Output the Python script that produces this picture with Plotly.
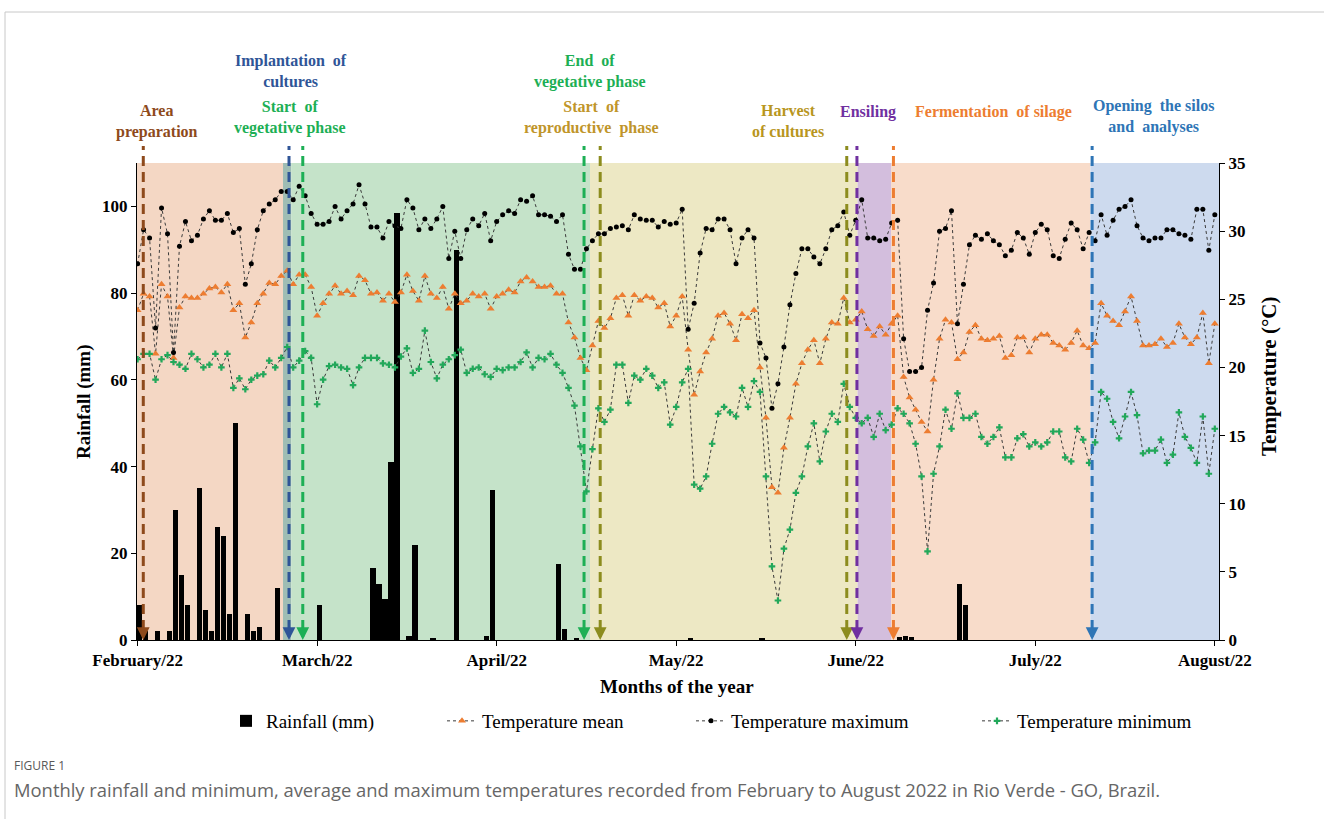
import plotly.graph_objects as go

# ---------------- data ----------------
month_labels = ["February/22", "March/22", "April/22", "May/22", "June/22", "July/22", "August/22"]
month_ticks = [0, 30, 60, 90, 120, 150, 180]

temp_max = [27.6, 30.1, 29.5, 22.9, 31.7, 29.8, 21.1, 28.9, 30.7, 29.3,
            29.7, 30.9, 31.5, 30.8, 30.8, 31.3, 29.9, 30.2, 26.1, 27.6,
            30.1, 31.5, 32.0, 32.3, 32.9, 32.9, 32.3, 33.3, 32.6, 31.3,
            30.5, 30.5, 30.7, 31.8, 30.9, 31.5, 32.0, 33.4, 32.0, 30.3,
            30.3, 29.5, 30.7, 30.4, 30.2, 32.3, 31.7, 30.1, 30.9, 30.2,
            30.9, 31.8, 28.0, 30.0, 28.0, 30.1, 30.9, 30.4, 31.3, 29.3,
            30.7, 31.2, 31.5, 31.3, 32.3, 32.2, 32.6, 31.2, 31.2, 31.1,
            30.7, 31.2, 28.3, 27.2, 27.2, 28.7, 29.3, 29.8, 29.8, 30.2,
            30.3, 30.4, 30.1, 31.2, 30.9, 30.8, 30.8, 30.3, 30.7, 30.5,
            30.6, 31.6, 22.8, 24.7, 28.4, 30.2, 30.1, 30.9, 30.9, 30.1,
            27.6, 29.5, 30.1, 29.5, 21.8, 20.7, 17.0, 18.8, 21.5, 24.6,
            26.9, 28.7, 28.7, 28.1, 27.6, 28.7, 30.1, 30.4, 31.4, 29.7,
            30.8, 32.3, 29.5, 29.5, 29.3, 29.4, 30.6, 30.8, 22.1, 19.7,
            19.7, 20.0, 24.2, 26.2, 30.0, 30.2, 31.5, 23.2, 26.1, 29.0,
            29.7, 29.4, 29.8, 29.3, 29.0, 28.2, 28.6, 29.9, 29.5, 28.3,
            29.9, 30.5, 30.1, 28.2, 28.0, 29.4, 30.6, 30.1, 28.7, 29.9,
            29.3, 31.2, 29.7, 30.8, 31.6, 31.8, 32.3, 30.4, 29.5, 29.3,
            29.5, 29.5, 30.1, 30.1, 29.8, 29.7, 29.4, 31.6, 31.6, 28.6,
            31.2]

temp_mean = [24.2, 25.4, 25.2, 21.0, 26.1, 25.2, 20.7, 24.4, 25.2, 25.1,
             25.1, 25.4, 25.8, 25.9, 25.5, 26.1, 24.2, 24.7, 22.2, 23.3,
             24.7, 25.4, 26.2, 26.1, 26.7, 27.1, 26.1, 26.8, 26.8, 25.9,
             23.8, 24.7, 25.4, 26.0, 25.4, 25.6, 25.3, 26.7, 26.4, 25.4,
             25.5, 24.9, 25.4, 24.8, 25.5, 26.8, 25.6, 24.9, 26.7, 25.4,
             25.1, 25.9, 24.3, 25.4, 24.7, 24.9, 25.4, 25.2, 25.4, 24.3,
             25.2, 25.4, 25.7, 25.5, 26.3, 26.6, 26.3, 25.9, 25.9, 26.0,
             25.4, 25.4, 23.3, 22.2, 20.7, 19.8, 21.6, 23.4, 22.9, 23.6,
             25.1, 25.3, 23.8, 25.3, 24.9, 25.2, 25.1, 24.4, 24.7, 23.0,
             23.8, 25.2, 21.3, 18.0, 19.7, 21.1, 22.1, 23.8, 24.0, 23.2,
             22.0, 23.9, 23.6, 24.2, 20.0, 16.3, 11.2, 10.8, 14.1, 16.3,
             18.8, 20.3, 21.3, 22.0, 20.3, 22.1, 23.3, 23.2, 25.1, 23.3,
             23.5, 24.1, 22.8, 22.3, 23.0, 22.4, 23.2, 23.8, 19.3, 17.8,
             16.9, 16.0, 15.3, 19.1, 22.1, 23.5, 23.3, 20.6, 21.1, 22.6,
             23.1, 22.1, 22.0, 22.1, 22.3, 20.7, 20.9, 22.2, 22.2, 21.1,
             22.1, 22.4, 22.4, 21.8, 21.6, 21.3, 21.8, 22.7, 21.6, 21.4,
             21.8, 24.7, 23.8, 23.4, 23.1, 24.1, 25.2, 23.4, 21.6, 21.6,
             21.7, 22.1, 21.5, 21.8, 23.2, 22.2, 21.7, 22.2, 24.0, 20.3,
             23.2]

temp_min = [20.6, 21.0, 21.0, 19.1, 20.6, 20.9, 20.4, 20.2, 19.9, 21.0,
            20.6, 20.0, 20.2, 21.0, 20.0, 21.0, 18.5, 19.2, 18.4, 19.1,
            19.4, 19.5, 20.5, 20.0, 20.7, 21.5, 20.0, 20.5, 21.2, 20.7,
            17.3, 19.1, 20.1, 20.2, 20.0, 19.9, 18.7, 20.0, 20.7, 20.7,
            20.7, 20.3, 20.2, 20.0, 20.8, 21.4, 19.6, 19.9, 22.7, 20.4,
            19.2, 20.2, 20.6, 20.9, 21.3, 19.6, 19.9, 20.0, 19.5, 19.3,
            19.9, 19.8, 20.0, 20.0, 20.4, 21.1, 20.0, 20.7, 20.6, 21.0,
            20.2, 19.6, 18.5, 17.2, 14.2, 10.9, 14.0, 17.0, 16.0, 16.9,
            20.2, 20.2, 17.4, 19.4, 19.1, 19.9, 19.4, 18.5, 18.9, 15.8,
            17.1, 18.9, 19.9, 11.4, 11.1, 12.0, 14.4, 16.6, 17.1, 16.7,
            16.4, 18.5, 17.1, 19.0, 18.2, 12.0, 5.4, 2.9, 6.7, 8.1,
            10.8, 12.0, 14.2, 15.9, 13.1, 15.3, 16.6, 16.0, 18.8, 17.1,
            16.3, 15.9, 16.3, 14.9, 16.6, 15.4, 15.8, 17.0, 16.6, 15.9,
            14.4, 12.0, 6.5, 12.2, 14.2, 16.9, 15.5, 18.1, 16.3, 16.3,
            16.6, 14.9, 14.4, 14.9, 15.6, 13.4, 13.4, 14.8, 15.1, 14.2,
            14.5, 14.2, 14.5, 15.3, 15.3, 13.4, 13.1, 15.5, 14.7, 13.0,
            14.5, 18.2, 17.7, 16.0, 14.8, 16.4, 18.2, 16.5, 13.7, 13.9,
            13.9, 14.7, 13.0, 13.6, 16.7, 14.9, 14.1, 13.0, 16.4, 12.2,
            15.5]

days = list(range(len(temp_max)))

rain_day = [0, 1, 3, 5, 6, 7, 8, 10, 11, 12, 13, 14, 15, 16, 18, 19, 20, 23, 30,
            39, 40, 41, 42, 43, 45, 46, 49, 53, 58, 59, 70, 71, 73,
            92, 104, 127, 128, 129, 137, 138]
rain_mm = [8, 2, 2, 2, 30, 15, 8, 35, 7, 2, 26, 24, 6, 50, 6, 2, 3, 12, 8,
           16.5, 13, 9.5, 41, 98.5, 1, 22, 0.3, 90, 1, 34.5, 17.5, 2.5, 0.3,
           0.3, 0.3, 0.8, 1.0, 0.6, 13, 8]

# crop-phase periods (day index start, end)
phase_start = [-0.1, 24.3, 25.7, 75.6, 120.3, 125.9, 159.2]
phase_end = [24.3, 25.7, 75.6, 120.3, 125.9, 159.2, 180.7]
phase_fill = ["#F4D7C4", "#9FBDB4", "#C5E3C9", "#EDE8C4", "#D3BEDD", "#F8DCCA", "#CDDAEE"]

# events (day index) marked with dashed arrows
event_day = [0.95, 25.3, 27.6, 74.6, 77.3, 118.5, 120.2, 126.3, 159.5]
event_color = ["#8E4A1C", "#2F5597", "#1DAF55", "#1DAF55", "#8C8C1E",
               "#8C8C1E", "#7030A0", "#ED7D31", "#2E75B6"]

# ---------------- layout helpers ----------------
W, H = 1324, 819
L, R, T, B = 137, 105, 163, 179
PW, PH = W - L - R, H - T - B


def px(x):
    return (x - L) / PW


def py(y):
    return (H - B - y) / PH


SERIF = "Liberation Serif, Times New Roman, serif"

fig = go.Figure()

fig.add_trace(go.Bar(
    x=rain_day, y=rain_mm, name="Rainfall (mm)", marker=dict(color="black", line=dict(width=0)),
    width=0.88, offset=-0.1, yaxis="y", legend="legend"))

fig.add_trace(go.Scatter(
    x=days, y=temp_mean, name="Temperature mean", mode="lines+markers", yaxis="y2",
    line=dict(color="#3a3a3a", width=1, dash="dot"),
    marker=dict(symbol="triangle-up", size=7, color="#ED7D31"), legend="legend2"))
fig.add_trace(go.Scatter(
    x=days, y=temp_max, name="Temperature maximum", mode="lines+markers", yaxis="y2",
    line=dict(color="#3a3a3a", width=1, dash="dot"),
    marker=dict(symbol="circle", size=5, color="black"), legend="legend3"))
fig.add_trace(go.Scatter(
    x=days, y=temp_min, name="Temperature minimum", mode="lines+markers", yaxis="y2",
    line=dict(color="#3a3a3a", width=1, dash="dot"),
    marker=dict(symbol="cross", size=5.5, color="#22A85A"), legend="legend4"))

shapes = []
for s, e, c in zip(phase_start, phase_end, phase_fill):
    shapes.append(dict(type="rect", xref="x", yref="y", x0=s, x1=e, y0=0, y1=110,
                       fillcolor=c, line=dict(width=0), layer="below"))
for d, c in zip(event_day, event_color):
    shapes.append(dict(type="line", xref="x", yref="paper", x0=d, x1=d, y0=py(630), y1=py(146),
                       line=dict(color=c, width=3, dash="10px,6px"), layer="above"))
# card border
shapes.append(dict(type="line", xref="paper", yref="paper", x0=px(5), x1=px(1324), y0=py(12), y1=py(12),
                   line=dict(color="#C8C8C8", width=1)))
shapes.append(dict(type="line", xref="paper", yref="paper", x0=px(5), x1=px(5), y0=py(12), y1=py(819),
                   line=dict(color="#C8C8C8", width=1)))

annotations = []
for d, c in zip(event_day, event_color):
    annotations.append(dict(x=d, y=0, xref="x", yref="y", text="", showarrow=True,
                            ax=0, ay=-11, arrowhead=2, arrowsize=0.85, arrowwidth=3, arrowcolor=c))

labels = [
    ("Area<br>preparation", 157, 121, "#8E4A1C"),
    ("Implantation  of<br>cultures", 291, 71.5, "#2F5597"),
    ("Start  of<br>vegetative phase", 290, 117.5, "#1DAF55"),
    ("End  of<br>vegetative phase", 590, 71.5, "#1DAF55"),
    ("Start  of<br>reproductive  phase", 591, 117.5, "#C0952A"),
    ("Harvest<br>of cultures", 788, 120.5, "#B8961E"),
    ("Ensiling", 868, 112, "#7030A0"),
    ("Fermentation  of silage", 993, 112, "#ED7D31"),
    ("Opening  the silos<br>and  analyses", 1153, 116.5, "#2E75B6"),
]
for txt, x, y, c in labels:
    annotations.append(dict(x=px(x), y=py(y), xref="paper", yref="paper", text="<b>%s</b>" % txt,
                            showarrow=False, xanchor="center", yanchor="middle",
                            font=dict(family=SERIF, size=16, color=c)))

annotations += [
    dict(x=px(84), y=py(402), xref="paper", yref="paper", text="<b>Rainfall (mm)</b>", textangle=-90,
         showarrow=False, xanchor="center", yanchor="middle",
         font=dict(family=SERIF, size=19, color="black")),
    dict(x=px(1269), y=py(377), xref="paper", yref="paper", text="<b>Temperature (°C)</b>", textangle=-90,
         showarrow=False, xanchor="center", yanchor="middle",
         font=dict(family=SERIF, size=21, color="black")),
    dict(x=px(677), y=py(686), xref="paper", yref="paper", text="<b>Months of the year</b>",
         showarrow=False, xanchor="center", yanchor="middle",
         font=dict(family=SERIF, size=19, color="black")),
    dict(x=px(12), y=py(765), xref="paper", yref="paper", text="FIGURE 1", xanchor="left", yanchor="middle",
         showarrow=False, font=dict(family="Open Sans, sans-serif", size=12, color="#595959")),
    dict(x=px(12), y=py(789), xref="paper", yref="paper", xanchor="left", yanchor="middle",
         text="Monthly rainfall and minimum, average and maximum temperatures recorded from February to August 2022 in Rio Verde - GO, Brazil.",
         showarrow=False, font=dict(family="Open Sans, sans-serif", size=18.4, color="#666666")),
]


def leg(x):
    return dict(orientation="h", x=px(x), y=py(721), xanchor="left", yanchor="middle",
                bgcolor="rgba(0,0,0,0)", font=dict(family=SERIF, size=19, color="black"),
                itemwidth=30)


axis_font = dict(family=SERIF, size=17, color="black")
fig.update_layout(
    width=W, height=H, margin=dict(l=L, r=R, t=T, b=B, pad=0),
    paper_bgcolor="white", plot_bgcolor="white",
    bargap=0,
    xaxis=dict(range=[-0.1, 180.7], tickvals=month_ticks, ticktext=["<b>%s</b>" % m for m in month_labels],
               showline=True, linecolor="black", linewidth=1, ticks="outside", ticklen=5,
               tickcolor="black", showgrid=False, zeroline=False, tickfont=axis_font),
    yaxis=dict(range=[0, 110], tick0=0, dtick=20, showline=True, linecolor="black", linewidth=1,
               ticks="outside", ticklen=5, tickcolor="black", showgrid=False, zeroline=False,
               tickfont=axis_font, tickprefix="<b>", ticksuffix="</b>"),
    yaxis2=dict(range=[0, 35], tick0=0, dtick=5, overlaying="y", side="right", showline=True,
                linecolor="black", linewidth=1, ticks="outside", ticklen=5, tickcolor="black",
                showgrid=False, zeroline=False, tickfont=axis_font, tickprefix="<b>", ticksuffix="</b>"),
    shapes=shapes, annotations=annotations,
    legend=leg(226), legend2=leg(442), legend3=leg(691), legend4=leg(977),
    showlegend=True,
)

fig.write_html("out.html", config={"displayModeBar": False},
               post_script="document.body.style.margin='0px';document.body.style.overflow='hidden';")
